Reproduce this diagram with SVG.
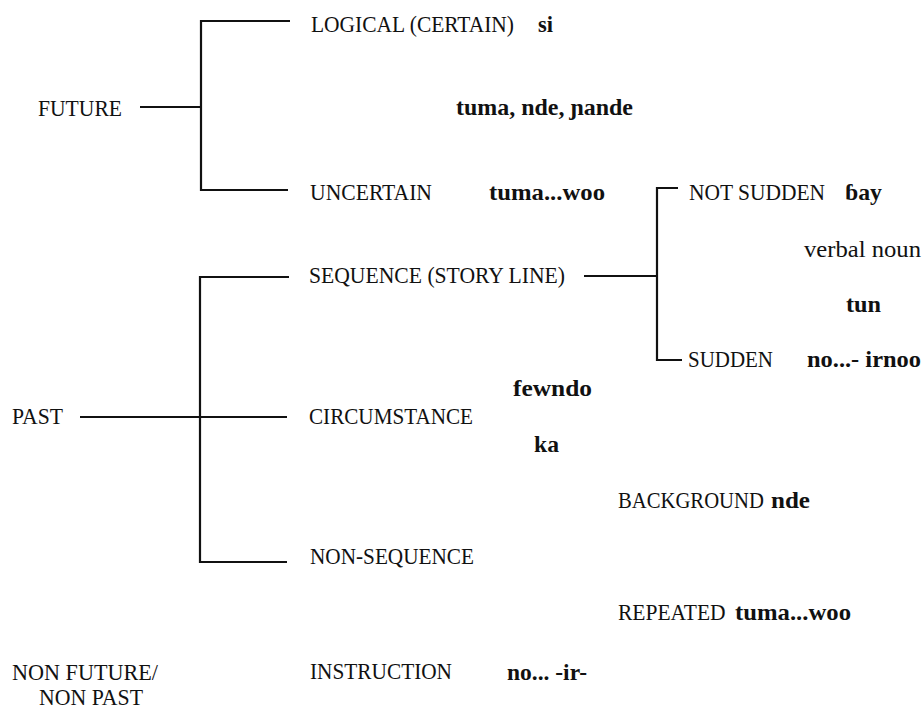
<svg xmlns="http://www.w3.org/2000/svg" width="923" height="711" viewBox="0 0 923 711">
<style>
text{font-family:"Liberation Serif","DejaVu Serif",serif;font-size:24px;fill:#111;}
.b{font-weight:bold;}
.c{fill:none;stroke:#111;stroke-width:2.2;}
</style>
<rect width="923" height="711" fill="#fff"/>
<g id="connectors">
<path class="c" d="M140 107H201"/>
<path class="c" d="M290 21H201V190H288"/>
<path class="c" d="M80 417H287"/>
<path class="c" d="M289 277H200V562H287"/>
<path class="c" d="M584 276H657"/>
<path class="c" d="M678 188H657V360H682"/>
</g>
<g id="future"><text x="38" y="116" textLength="84" lengthAdjust="spacingAndGlyphs">FUTURE</text></g>
<g id="logical"><text x="311" y="32" textLength="203" lengthAdjust="spacingAndGlyphs">LOGICAL (CERTAIN)</text><text class="b" x="538" y="32" textLength="15" lengthAdjust="spacingAndGlyphs">si</text></g>
<g id="future-markers"><text class="b" x="456" y="115" textLength="177" lengthAdjust="spacingAndGlyphs">tuma, nde, ɲande</text></g>
<g id="uncertain"><text x="310" y="200" textLength="122" lengthAdjust="spacingAndGlyphs">UNCERTAIN</text><text class="b" x="489" y="200" textLength="116" lengthAdjust="spacingAndGlyphs">tuma...woo</text></g>
<g id="not-sudden"><text x="689" y="200" textLength="136" lengthAdjust="spacingAndGlyphs">NOT SUDDEN</text><text class="b" x="845" y="200" textLength="37" lengthAdjust="spacingAndGlyphs">ɓay</text></g>
<g id="verbal-noun"><text x="804" y="257" textLength="117" lengthAdjust="spacingAndGlyphs">verbal noun</text><text class="b" x="846" y="312" textLength="35" lengthAdjust="spacingAndGlyphs">tun</text></g>
<g id="sequence"><text x="309" y="283" textLength="256" lengthAdjust="spacingAndGlyphs">SEQUENCE (STORY LINE)</text></g>
<g id="sudden"><text x="688" y="367" textLength="85" lengthAdjust="spacingAndGlyphs">SUDDEN</text><text class="b" x="807" y="367" textLength="114" lengthAdjust="spacingAndGlyphs">no...- irnoo</text></g>
<g id="past"><text x="12" y="424" textLength="51" lengthAdjust="spacingAndGlyphs">PAST</text></g>
<g id="circumstance"><text class="b" x="513" y="396" textLength="79" lengthAdjust="spacingAndGlyphs">fewndo</text><text x="309" y="424" textLength="164" lengthAdjust="spacingAndGlyphs">CIRCUMSTANCE</text><text class="b" x="534" y="452" textLength="25" lengthAdjust="spacingAndGlyphs">ka</text></g>
<g id="background"><text transform="translate(618 508) scale(0.862 1)">BACKGROUND</text><text class="b" x="771" y="508" textLength="39" lengthAdjust="spacingAndGlyphs">nde</text></g>
<g id="non-sequence"><text x="310" y="564" textLength="164" lengthAdjust="spacingAndGlyphs">NON-SEQUENCE</text></g>
<g id="repeated"><text transform="translate(618 620) scale(0.897 1)">REPEATED</text><text class="b" x="735" y="620" textLength="116" lengthAdjust="spacingAndGlyphs">tuma...woo</text></g>
<g id="non-future"><text x="12" y="680" textLength="146" lengthAdjust="spacingAndGlyphs">NON FUTURE/</text><text x="39" y="705" textLength="104" lengthAdjust="spacingAndGlyphs">NON PAST</text></g>
<g id="instruction"><text x="310" y="679" textLength="142" lengthAdjust="spacingAndGlyphs">INSTRUCTION</text><text class="b" x="507" y="680" textLength="80" lengthAdjust="spacingAndGlyphs">no... -ir-</text></g>
</svg>
